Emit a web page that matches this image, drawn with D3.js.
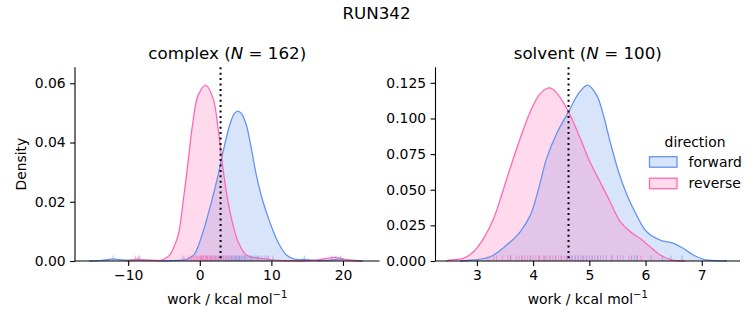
<!DOCTYPE html>
<html><head><meta charset="utf-8">
<script src="https://cdn.jsdelivr.net/npm/d3@7"></script>
<style>
body{margin:0;background:#fff;}
svg{display:block;font-family:"DejaVu Sans",sans-serif;}
</style></head>
<body><svg id="chart" width="753" height="325"></svg>
<script>
const suptitle = "RUN342";
const panelNames = ["complex", "solvent"];
const panelN = [162, 100];
const seriesNames = ["forward", "reverse"];
const seriesColors = ["#6495ED", "#FF69B4"];
const verticalLines = [2.9, 4.63];

// KDE curves: [work, density]
const complexForward = [[-15.5,0],[-14,0.0001],[-12.8,0.0005],[-12.1,0.0007],[-11,0.0004],[-9.5,0.0003],[-8.5,0.0005],[-7.5,0.0003],[-6,0.0001],[-4,0.0001],[-2.5,0.0003],[-1.5,0.0009],[-0.7,0.0025],[0.46,0.0099],[1.63,0.020],[2.56,0.029],[3.25,0.0369],[4.18,0.0459],[4.8,0.0497],[5.35,0.0506],[5.9,0.0495],[6.5,0.0459],[7.2,0.038],[7.9,0.029],[8.83,0.020],[9.76,0.0133],[10.9,0.0065],[12.1,0.002],[13.2,0.0006],[14.6,0.0005],[16,0.0002],[17.5,0.0002],[19.6,0.0006],[21,0.0003],[22.8,0]];
const complexReverse = [[-10.2,0],[-9.5,0.0003],[-8.8,0.0006],[-8,0.0004],[-6.5,0.0002],[-5.2,0.0004],[-4.2,0.002],[-3.6,0.0048],[-3.0,0.0088],[-2.33,0.020],[-1.63,0.0335],[-1.02,0.0459],[-0.23,0.056],[0.84,0.0593],[1.86,0.0549],[2.56,0.0447],[3.02,0.0357],[3.63,0.0245],[4.42,0.0144],[5.35,0.0065],[6.5,0.002],[7.5,0.0012],[8.4,0.0009],[9.5,0.0006],[11,0.0002],[13,0.0001],[15,0.0001],[16.5,0.0004],[18,0.0010],[18.8,0.0012],[19.8,0.0008],[21,0.0002],[22.3,0]];
const solventForward = [[2.7,0],[2.94,0.0007],[3.24,0.003],[3.53,0.0112],[3.77,0.0205],[3.95,0.032],[4.1,0.051],[4.24,0.072],[4.42,0.0895],[4.63,0.1047],[4.81,0.1176],[4.97,0.1234],[5.13,0.1164],[5.25,0.1024],[5.37,0.0837],[5.52,0.0626],[5.67,0.0463],[5.84,0.0322],[6.02,0.0205],[6.26,0.0147],[6.5,0.0124],[6.67,0.0089],[6.85,0.0042],[7.03,0.0012],[7.3,0.0002],[7.45,0]];
const solventReverse = [[2.45,0],[2.53,0.0007],[2.76,0.0019],[2.94,0.0065],[3.12,0.0159],[3.3,0.030],[3.44,0.0463],[3.59,0.065],[3.77,0.086],[3.95,0.1047],[4.13,0.1176],[4.3,0.1215],[4.45,0.1164],[4.63,0.1047],[4.84,0.086],[5.01,0.0696],[5.19,0.0556],[5.37,0.0416],[5.55,0.0276],[5.73,0.0205],[5.9,0.0159],[6.08,0.010],[6.26,0.0042],[6.5,0.0005],[6.7,0]];

// rug samples (work values)
const complexForwardRug = [-12.1,-8.4,0.2,1.0,1.6,2.1,2.6,3.0,3.3,3.6,3.9,4.2,4.4,4.6,4.8,5.0,5.1,5.3,5.5,5.6,5.8,6.0,6.2,6.4,6.6,6.9,7.1,7.4,7.7,8.0,8.3,8.7,9.1,9.6,10.2,14.6,19.7];
const complexReverseRug = [-9.0,-8.6,-2.4,-2.2,-1.6,-1.3,-1.1,-0.9,-0.7,-0.5,-0.4,-0.2,0.0,0.1,0.3,0.4,0.5,0.6,0.8,0.9,1.0,1.1,1.3,1.4,1.5,1.7,1.8,2.0,2.2,2.3,2.5,2.7,2.9,3.1,3.4,3.7,4.0,4.4,4.9,5.5,6.3,7.2,8.1,9.4,18.4,19.0];
const solventForwardRug = [3.6,3.8,3.95,4.1,4.2,4.3,4.4,4.5,4.6,4.65,4.7,4.75,4.8,4.85,4.9,4.95,5.0,5.05,5.1,5.15,5.2,5.3,5.4,5.5,5.6,5.75,5.8,5.85,6.1,6.3,6.45,6.65];
const solventReverseRug = [3.2,3.3,3.35,3.45,3.55,3.6,3.7,3.75,3.8,3.85,3.9,3.95,4.0,4.05,4.1,4.12,4.18,4.22,4.25,4.3,4.35,4.4,4.45,4.5,4.55,4.6,4.68,4.75,4.8,4.88,4.95,5.05,5.15,5.25,5.4,5.55,5.7,5.85,5.92];

const complexXTicks = [-10, 0, 10, 20];
const complexYTicks = [0, 0.02, 0.04, 0.06];
const solventXTicks = [3, 4, 5, 6, 7];
const solventYTicks = [0, 0.025, 0.05, 0.075, 0.1, 0.125];

const panels = [
  {name: panelNames[0], n: panelN[0], curves: [complexForward, complexReverse], rugs: [complexForwardRug, complexReverseRug],
   xDom: [-17.43, 25.1], yDom: [0, 0.0654], xTicks: complexXTicks, yTicks: complexYTicks, yFmt: d3.format(".2f"),
   left: 75, right: 379.5, vline: verticalLines[0], ylabel: true},
  {name: panelNames[1], n: panelN[1], curves: [solventForward, solventReverse], rugs: [solventForwardRug, solventReverseRug],
   xDom: [2.264, 7.68], yDom: [0, 0.1359], xTicks: solventXTicks, yTicks: solventYTicks, yFmt: d3.format(".3f"),
   left: 435.5, right: 740, vline: verticalLines[1], ylabel: false}
];
const yTop = 67.3, yBottom = 261;
const svg = d3.select("#chart");
const fs = 13.9;

svg.append("text").attr("x", 376.5).attr("y", 19).attr("text-anchor","middle")
  .attr("font-size", 16.7).text(suptitle);

panels.forEach(p => {
  const x = d3.scaleLinear().domain(p.xDom).range([p.left, p.right]);
  const y = d3.scaleLinear().domain(p.yDom).range([yBottom, yTop]);
  const g = svg.append("g");
  const area = d3.area().x(d=>x(d[0])).y0(y(0)).y1(d=>y(d[1])).curve(d3.curveCatmullRom.alpha(0.5));
  const line = d3.line().x(d=>x(d[0])).y(d=>y(d[1])).curve(d3.curveCatmullRom.alpha(0.5));
  p.curves.forEach((c,i) => {
    g.append("path").datum(c).attr("d", area).attr("fill", seriesColors[i]).attr("fill-opacity", 0.25);
  });
  p.curves.forEach((c,i) => {
    g.append("path").datum(c).attr("d", line).attr("fill","none").attr("stroke", seriesColors[i]).attr("stroke-width", 1.3);
  });
  p.rugs.forEach((r,i) => {
    g.selectAll(null).data(r).enter().append("line")
      .attr("x1", d=>x(d)).attr("x2", d=>x(d)).attr("y1", yBottom).attr("y2", yBottom-5.5)
      .attr("stroke", seriesColors[i]).attr("stroke-opacity", 0.5).attr("stroke-width", 1.1);
  });
  g.append("line").attr("x1", x(p.vline)).attr("x2", x(p.vline)).attr("y1", yTop).attr("y2", yBottom)
    .attr("stroke","#000").attr("stroke-width",2).attr("stroke-dasharray","2,3.4");

  const xa = g.append("g").attr("transform",`translate(0,${yBottom})`)
    .call(d3.axisBottom(x).tickValues(p.xTicks).tickSize(4.9).tickPadding(4.5).tickFormat(d => d<0 ? "\u2212"+Math.abs(d) : d));
  const ya = g.append("g").attr("transform",`translate(${p.left},0)`)
    .call(d3.axisLeft(y).tickValues(p.yTicks).tickSize(4.9).tickPadding(4.5).tickFormat(p.yFmt));
  [xa, ya].forEach(a => {
    a.select(".domain").attr("stroke","#000").attr("stroke-width",1.1);
    a.selectAll(".tick line").attr("stroke","#000").attr("stroke-width",1.1);
    a.selectAll("text").attr("font-size", fs).attr("fill","#000").attr("font-family","DejaVu Sans");
  });
  xa.select(".domain").attr("d", `M${p.left},0H${p.right}`);
  ya.select(".domain").attr("d", `M0,${yBottom}V${yTop}`);

  const cx = (p.left + p.right)/2;
  const t = svg.append("text").attr("x", cx).attr("y", 59).attr("text-anchor","middle").attr("font-size", 16.7);
  t.append("tspan").text(p.name + " (");
  t.append("tspan").attr("font-style","italic").text("N");
  t.append("tspan").text(" = " + p.n + ")");

  const xl = svg.append("text").attr("x", cx).attr("y", 304).attr("text-anchor","middle").attr("font-size", fs);
  xl.append("tspan").text("work / kcal mol");
  xl.append("tspan").attr("dy", -6).attr("font-size", 10).text("\u22121");

  if (p.ylabel) {
    svg.append("text").attr("transform", `translate(26,${(yTop+yBottom)/2}) rotate(-90)`)
      .attr("text-anchor","middle").attr("font-size", fs).text("Density");
  }
});

// legend
const lg = svg.append("g");
lg.append("text").attr("x", 695).attr("y", 146.5).attr("text-anchor","middle").attr("font-size", fs).text("direction");
seriesNames.forEach((s,i) => {
  const yy = 156.7 + i*21.5;
  lg.append("rect").attr("x", 649.5).attr("y", yy).attr("width", 27.5).attr("height", 10.5)
    .attr("fill", seriesColors[i]).attr("fill-opacity", 0.25).attr("stroke", seriesColors[i]).attr("stroke-width", 1.3);
  lg.append("text").attr("x", 688.5).attr("y", yy + 10).attr("font-size", fs).text(s);
});
</script></body></html>
